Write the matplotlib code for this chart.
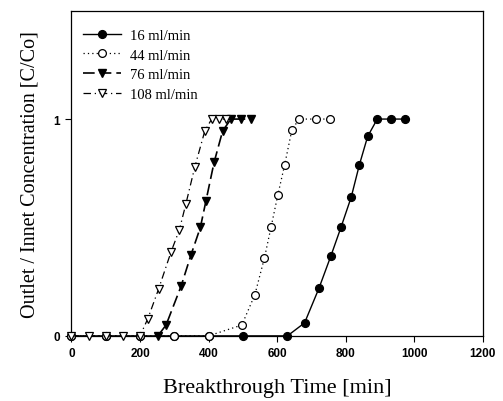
import matplotlib
matplotlib.use("Agg")
import matplotlib.pyplot as plt

# 16 ml/min (filled circles, solid)
t16 = [0, 100, 200, 300, 400, 500, 630, 680, 722, 757, 786, 816, 840, 864, 892, 933, 974]
c16 = [0, 0, 0, 0, 0, 0, 0, 0.06, 0.22, 0.37, 0.50, 0.64, 0.79, 0.92, 1.0, 1.0, 1.0]

# 44 ml/min (open circles, dotted)
t44 = [0, 100, 200, 300, 400, 497, 535, 563, 582, 602, 622, 643, 664, 714, 754]
c44 = [0, 0, 0, 0, 0, 0.05, 0.19, 0.36, 0.50, 0.65, 0.79, 0.95, 1.0, 1.0, 1.0]

# 76 ml/min (filled triangles, long dash)
t76 = [252, 276, 320, 349, 376, 392, 416, 441, 465, 494, 525]
c76 = [0, 0.05, 0.23, 0.375, 0.50, 0.62, 0.80, 0.945, 1.0, 1.0, 1.0]

# 108 ml/min (open triangles, dash-dot)
t108 = [0, 50, 100, 150, 200, 223, 254, 290, 315, 334, 360, 389, 409, 429, 450]
c108 = [0, 0, 0, 0, 0, 0.08, 0.215, 0.385, 0.49, 0.61, 0.78, 0.945, 1.0, 1.0, 1.0]

labels = ["16 ml/min", "44 ml/min", "76 ml/min", "108 ml/min"]
xticks = [0, 200, 400, 600, 800, 1000, 1200]
yticks = [0, 1]

fig = plt.figure(figsize=(5.03, 4.02), dpi=100)
ax = fig.add_axes([0.142, 0.162, 0.818, 0.809])

ms = 5.6
ax.plot(t16, c16, color="black", lw=1.0, ls="-", marker="o", ms=ms,
        mfc="black", mec="black", clip_on=False, label=labels[0], zorder=3)
ax.plot(t44, c44, color="black", lw=0.9, ls=(0, (1, 2.5)), marker="o", ms=ms,
        mfc="white", mec="black", mew=0.9, clip_on=False, label=labels[1], zorder=4)
ax.plot(t76, c76, color="black", lw=1.2, ls=(0, (7, 3)), marker="v", ms=ms,
        mfc="black", mec="black", clip_on=False, label=labels[2], zorder=5)
ax.plot(t108, c108, color="black", lw=0.9, ls=(0, (6, 3, 1, 3)), marker="v", ms=ms,
        mfc="white", mec="black", mew=0.9, clip_on=False, label=labels[3], zorder=6)

ax.set_xlim(0, 1200)
ax.set_ylim(0, 1.5)
ax.set_xticks(xticks)
ax.set_yticks(yticks)
ax.tick_params(direction="out", length=4, width=0.8, pad=4)
for lab in ax.get_xticklabels() + ax.get_yticklabels():
    lab.set_fontfamily("Liberation Sans")
    lab.set_fontweight("bold")
    lab.set_fontsize(8.5)
for s in ax.spines.values():
    s.set_linewidth(0.9)

ax.set_xlabel("Breakthrough Time [min]", fontfamily="Liberation Serif",
              fontsize=16, labelpad=14)
ax.set_ylabel("Outlet / Innet Concentration [C/Co]", fontfamily="Liberation Serif",
              fontsize=14.5, labelpad=10)

leg = ax.legend(loc="upper left", frameon=False, bbox_to_anchor=(0.028, 0.945),
                prop={"family": "Liberation Serif", "size": 10.5},
                handlelength=2.6, handletextpad=0.6, labelspacing=0.45,
                borderaxespad=0.0, borderpad=0.0)

fig.savefig("out.png", dpi=100)
